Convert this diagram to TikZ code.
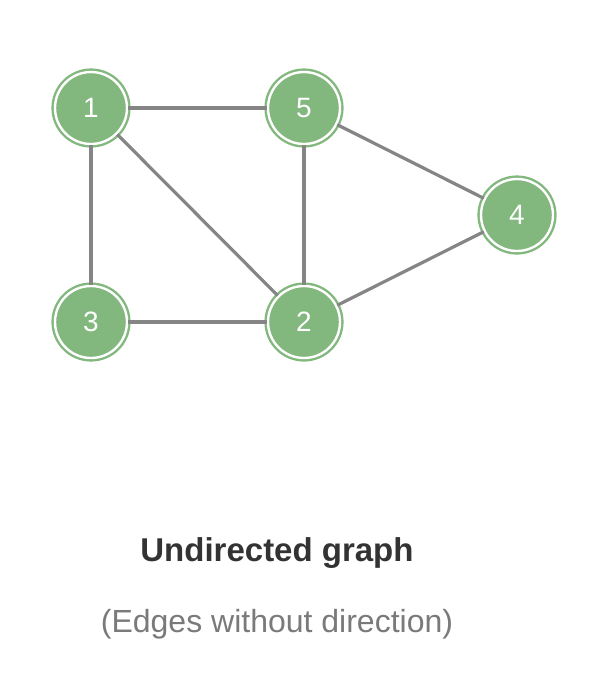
\documentclass[tikz,border=0pt]{standalone}
\usepackage{fontspec}
\setmainfont{Liberation Sans}
\definecolor{nodegreen}{HTML}{82B77E}
\definecolor{edgegray}{HTML}{858585}
\definecolor{titlegray}{HTML}{333333}
\definecolor{subgray}{HTML}{7A7A7A}
\begin{document}
\begin{tikzpicture}[x=1pt,y=-1pt,
  vertex/.style={circle, fill=nodegreen, draw=nodegreen, line width=2.4pt, double=white, double distance=2.4pt,
    minimum size=72pt, inner sep=0pt, text=white, font=\fontsize{28}{28}\selectfont},
  edgeline/.style={draw=edgegray, line width=3.2pt}]
\useasboundingbox (0,0) rectangle (589,697);
\node[vertex] (n1) at (91,108) {1};
\node[vertex] (n5) at (304,108) {5};
\node[vertex] (n4) at (517,215) {4};
\node[vertex] (n3) at (91,322) {3};
\node[vertex] (n2) at (304,322) {2};
\draw[edgeline] (n1) -- (n5);
\draw[edgeline] (n1) -- (n3);
\draw[edgeline] (n1) -- (n2);
\draw[edgeline] (n5) -- (n2);
\draw[edgeline] (n5) -- (n4);
\draw[edgeline] (n3) -- (n2);
\draw[edgeline] (n2) -- (n4);
\node[text=titlegray, font=\fontsize{33}{33}\selectfont\bfseries] (title) at (277,553) {Undirected graph};
\node[text=subgray, font=\fontsize{32}{32}\selectfont] (sub) at (277,624) {(Edges without direction)};
\end{tikzpicture}
\end{document}
